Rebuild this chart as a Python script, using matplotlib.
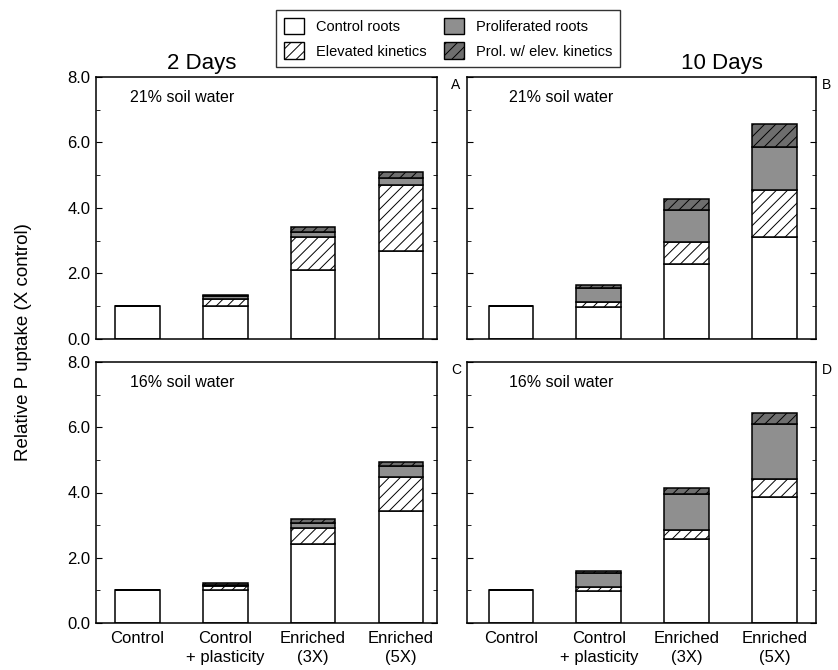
import numpy as np
import matplotlib
matplotlib.use('Agg')
import matplotlib.pyplot as plt
from matplotlib.patches import Patch
from matplotlib.ticker import MultipleLocator

plt.rcParams['font.family'] = ['Liberation Sans', 'DejaVu Sans']
plt.rcParams['hatch.linewidth'] = 0.7

# Data (relative P uptake, X control)
treatments = ['Control', 'Control\n+ plasticity', 'Enriched\n(3X)', 'Enriched\n(5X)']
components = ['Control roots', 'Elevated kinetics', 'Proliferated roots', 'Prol. w/ elev. kinetics']

# panel A: 2 days, 21% soil water
a_control = [1.00, 1.00, 2.12, 2.69]
a_elev = [0.00, 0.22, 1.00, 2.00]
a_prol = [0.00, 0.08, 0.14, 0.22]
a_prolelev = [0.00, 0.05, 0.15, 0.20]

# panel B: 10 days, 21% soil water
b_control = [1.00, 0.97, 2.28, 3.12]
b_elev = [0.00, 0.15, 0.67, 1.43]
b_prol = [0.00, 0.43, 0.99, 1.30]
b_prolelev = [0.00, 0.09, 0.34, 0.72]

# panel C: 2 days, 16% soil water
c_control = [1.00, 1.00, 2.42, 3.42]
c_elev = [0.00, 0.12, 0.48, 1.07]
c_prol = [0.00, 0.06, 0.18, 0.31]
c_prolelev = [0.00, 0.05, 0.11, 0.12]

# panel D: 10 days, 16% soil water
d_control = [1.00, 0.99, 2.57, 3.85]
d_elev = [0.00, 0.10, 0.27, 0.56]
d_prol = [0.00, 0.44, 1.12, 1.69]
d_prolelev = [0.00, 0.07, 0.18, 0.34]

panel_letters = ['A', 'B', 'C', 'D']
water_labels = ['21% soil water', '21% soil water', '16% soil water', '16% soil water']
day_titles = ['2 Days', '10 Days']

styles = [
    dict(facecolor='white', hatch=None),
    dict(facecolor='white', hatch='///'),
    dict(facecolor='#8f8f8f', hatch=None),
    dict(facecolor='#6e6e6e', hatch='///'),
]

W, H = 838, 670
fig = plt.figure(figsize=(W / 100, H / 100), dpi=100)


def px_axes(left, right, top, bottom):
    return fig.add_axes([left / W, 1 - bottom / H, (right - left) / W, (bottom - top) / H])


ax_a = px_axes(96, 437, 77, 339)
ax_b = px_axes(467, 816, 77, 339)
ax_c = px_axes(96, 437, 362, 623)
ax_d = px_axes(467, 816, 362, 623)
axes = [ax_a, ax_b, ax_c, ax_d]

data = [
    [a_control, a_elev, a_prol, a_prolelev],
    [b_control, b_elev, b_prol, b_prolelev],
    [c_control, c_elev, c_prol, c_prolelev],
    [d_control, d_elev, d_prol, d_prolelev],
]

x = np.arange(len(treatments))
for i, (ax, series) in enumerate(zip(axes, data)):
    bottom = np.zeros(len(x))
    for vals, st in zip(series, styles):
        vals = np.array(vals)
        ax.bar(x, vals, 0.51, bottom=bottom, facecolor=st['facecolor'],
               hatch=st['hatch'], edgecolor='black', linewidth=1.1)
        bottom += vals

    ax.set_ylim(0, 8)
    if i % 2 == 0:
        ax.set_xlim(-0.47, 3.41)
    else:
        ax.set_xlim(-0.50, 3.47)
    ax.yaxis.set_major_locator(MultipleLocator(2))
    ax.yaxis.set_minor_locator(MultipleLocator(1))
    ax.tick_params(axis='y', which='both', direction='in', left=True, right=True, labelsize=12)
    ax.tick_params(axis='y', which='major', length=4, pad=4)
    ax.tick_params(axis='y', which='minor', length=3)
    ax.tick_params(axis='x', length=0)
    for sp in ax.spines.values():
        sp.set_linewidth(1.1)
    if i % 2 == 0:
        ax.set_yticklabels(['%.1f' % v for v in ax.get_yticks()])
    else:
        ax.set_yticklabels([])
    if i >= 2:
        ax.set_xticks(x)
        ax.set_xticklabels(treatments, fontsize=12, va='top', linespacing=1.3)
        ax.tick_params(axis='x', pad=6)
    else:
        ax.set_xticks([])

    ax.text(0.10 if i % 2 == 0 else 0.12, 0.92, water_labels[i], transform=ax.transAxes,
            fontsize=11.5, va='center', ha='left')
    ax.text(1.055 if i % 2 == 0 else 1.03, 0.97, panel_letters[i], transform=ax.transAxes,
            fontsize=10, va='center', ha='center')

fig.text(202 / W, 1 - 63 / H, day_titles[0], fontsize=16, ha='center', va='center')
fig.text(722 / W, 1 - 63 / H, day_titles[1], fontsize=16, ha='center', va='center')
fig.text(24 / W, 1 - 342 / H, 'Relative P uptake (X control)', fontsize=13.5,
         rotation=90, ha='center', va='center')

handles = [Patch(facecolor=st['facecolor'], hatch=st['hatch'], edgecolor='black', linewidth=1.0)
           for st in styles]
leg = fig.legend(handles, components, ncol=2, loc='upper center',
                 bbox_to_anchor=(448 / W, 1 - 3 / H), fontsize=10.5, frameon=True,
                 fancybox=False, edgecolor='black', handlelength=1.4, handleheight=1.4,
                 columnspacing=1.2, borderpad=0.5, labelspacing=0.55, handletextpad=0.8)
leg.get_frame().set_linewidth(1.0)

fig.savefig('out.png', dpi=100)
